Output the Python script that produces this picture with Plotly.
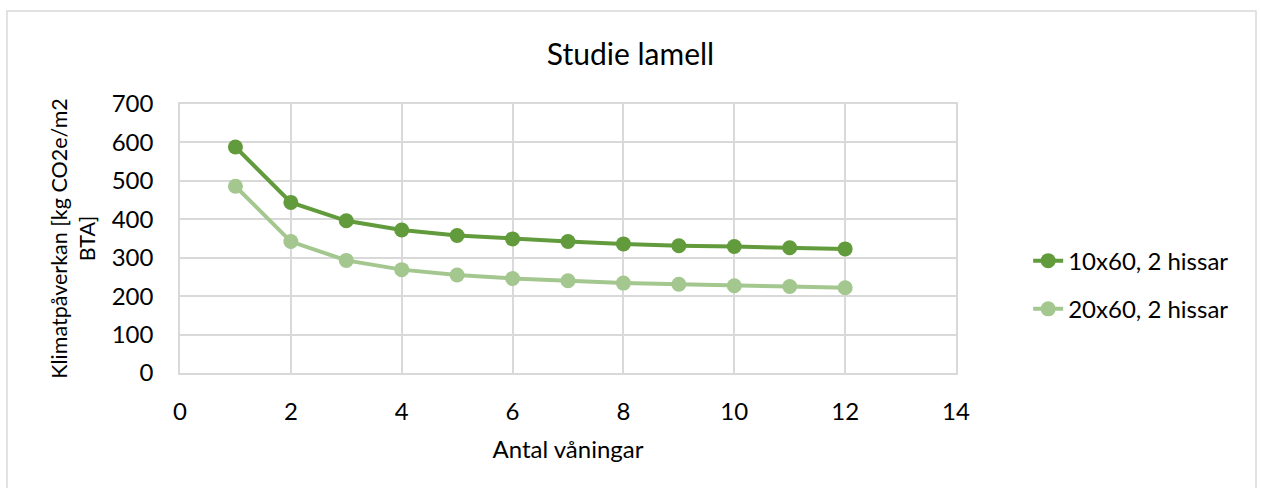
import plotly.graph_objects as go

# Antal våningar (x) and climate impact per series
floors = [1, 2, 3, 4, 5, 6, 7, 8, 9, 10, 11, 12]
impact_10x60 = [588, 444, 396, 372, 358, 349, 342, 336, 331, 329, 326, 323]
impact_20x60 = [486, 342, 293, 269, 255, 246, 240, 234, 231, 227, 225, 222]

series_names = ["10x60, 2 hissar", "20x60, 2 hissar"]
series_colors = ["#629B3C", "#A3C78F"]

x_ticks = [0, 2, 4, 6, 8, 10, 12, 14]
y_ticks = [0, 100, 200, 300, 400, 500, 600, 700]

FONT = "Lato"
GRID = "#D9D9D9"

fig = go.Figure()
for i, (name, vals, col) in enumerate(zip(series_names, [impact_10x60, impact_20x60], series_colors)):
    fig.add_trace(go.Scatter(
        x=floors, y=vals, name=name, mode="lines+markers",
        line=dict(color=col, width=4),
        marker=dict(color=col, size=15),
        legendgroup=f"g{i}",
    ))

fig.update_layout(
    width=1261, height=488,
    margin=dict(l=180, r=305, t=104, b=115),
    paper_bgcolor="white", plot_bgcolor="white",
    font=dict(family=FONT, color="#000000", size=24),
    title=dict(text="Studie lamell", x=0.5, xanchor="center", y=1 - 54 / 488,
               yanchor="middle", font=dict(size=30, family=FONT)),
    legend=dict(x=1.093, xanchor="left", y=0.327, yanchor="middle",
                font=dict(size=24, family=FONT), tracegroupgap=14,
                bgcolor="rgba(0,0,0,0)"),
    showlegend=True,
)

fig.update_xaxes(
    range=[0, 14], tickvals=x_ticks, ticktext=[str(v) for v in x_ticks],
    showgrid=True, gridcolor=GRID, gridwidth=1.5,
    showline=True, linecolor=GRID, linewidth=1.5, mirror=True,
    zeroline=False, ticks="", ticklabelstandoff=16,
    tickfont=dict(size=24, family=FONT),
    title=dict(text="Antal våningar", standoff=18, font=dict(size=24, family=FONT)),
)
fig.update_yaxes(
    range=[0, 700], tickvals=y_ticks, ticktext=[str(v) for v in y_ticks],
    showgrid=True, gridcolor=GRID, gridwidth=1.5,
    showline=True, linecolor=GRID, linewidth=1.5, mirror=True,
    zeroline=False, ticks="", ticklabelstandoff=20,
    tickfont=dict(size=24, family=FONT),
    title=dict(text="Klimatpåverkan [kg CO2e/m2<br>BTA]", standoff=10,
               font=dict(size=21.5, family=FONT)),
)

# Outer chart frame
fig.add_shape(type="rect", xref="paper", yref="paper",
              x0=-0.223, x1=1.3866, y0=-0.6, y1=1.3457,
              line=dict(color=GRID, width=1.5), fillcolor="rgba(0,0,0,0)", layer="below")

fig.write_html("out.html")
